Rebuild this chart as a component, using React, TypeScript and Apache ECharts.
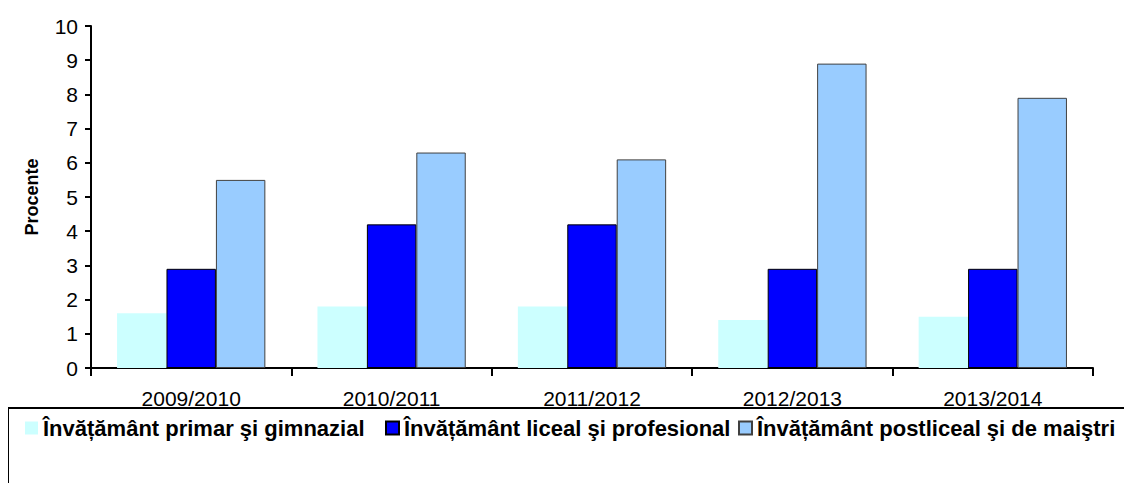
import React, { useEffect, useRef } from "react";
import * as echarts from "echarts";

const categories = ["2009/2010", "2010/2011", "2011/2012", "2012/2013", "2013/2014"];
const seriesNames = [
  "Învățământ primar şi gimnazial",
  "Învățământ liceal şi profesional",
  "Învățământ postliceal şi de maiştri",
];
const primar = [1.6, 1.8, 1.8, 1.4, 1.5];
const liceal = [2.9, 4.2, 4.2, 2.9, 2.9];
const postliceal = [5.5, 6.3, 6.1, 8.9, 7.9];
const yTicks = { min: 0, max: 10, interval: 1 };

const colors = ["#CCFFFF", "#0000FF", "#99CCFF"];
const borders = ["transparent", "#000000", "#404040"];

export default function App() {
  const ref = useRef<HTMLDivElement>(null);
  useEffect(() => {
    if (!ref.current) return;
    const chart = echarts.init(ref.current, null, { renderer: "svg" });
    const font = "Arial, 'Liberation Sans', sans-serif";
    const data = [primar, liceal, postliceal];
    const legendLefts = [17, 377, 730];
    chart.setOption({
      animation: false,
      textStyle: { fontFamily: font },
      grid: { left: 83, top: 18, right: 31, bottom: 115 },
      legend: seriesNames.map((n, i) => ({
        data: [n],
        left: legendLefts[i],
        top: 409,
        icon: "rect",
        itemWidth: 13,
        itemHeight: 13,
        itemGap: 5,
        padding: 0,
        textStyle: { fontFamily: font, fontSize: 22, fontWeight: "bold", color: "#000" },
        selectedMode: false,
      })),
      graphic: [
        {
          type: "rect",
          shape: { x: 0, y: 400, width: 1140, height: 100 },
          style: { fill: "none", stroke: "#000", lineWidth: 2 },
          silent: true,
        },
      ],
      xAxis: {
        type: "category",
        data: categories,
        axisLine: { lineStyle: { color: "#000", width: 2 } },
        axisTick: { show: true, length: 8, lineStyle: { color: "#000", width: 2 } },
        axisLabel: { color: "#000", fontSize: 21, margin: 20, fontFamily: font },
      },
      yAxis: {
        type: "value",
        min: yTicks.min,
        max: yTicks.max,
        interval: yTicks.interval,
        name: "Procente",
        nameLocation: "middle",
        nameGap: 50,
        nameTextStyle: { fontSize: 18, fontWeight: "bold", color: "#000", fontFamily: font },
        axisLine: { show: true, lineStyle: { color: "#000", width: 2 } },
        axisTick: { show: true, length: 6, lineStyle: { color: "#000", width: 2 } },
        axisLabel: { color: "#000", fontSize: 21, margin: 13, fontFamily: font },
        splitLine: { show: false },
      },
      series: seriesNames.map((n, i) => ({
        name: n,
        type: "bar",
        data: data[i],
        barGap: "0%",
        barCategoryGap: "26%",
        itemStyle: {
          color: colors[i],
          borderColor: borders[i],
          borderWidth: i === 0 ? 0 : 1,
        },
      })),
    });
    return () => chart.dispose();
  }, []);
  return <div ref={ref} style={{ width: 1116, height: 475 }} />;
}
